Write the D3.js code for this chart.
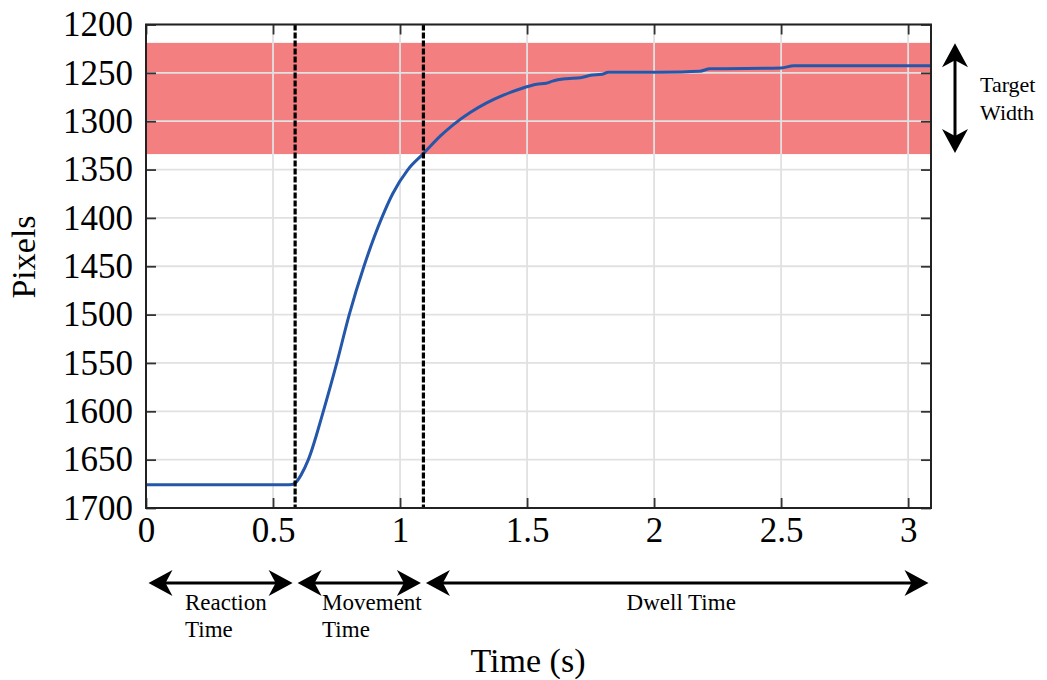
<!DOCTYPE html>
<html>
<head>
<meta charset="utf-8">
<script src="https://cdn.jsdelivr.net/npm/d3@7"></script>
<style>
  body { margin: 0; background: #fff; }
  svg { display: block; font-family: "Liberation Serif", "Times New Roman", serif; }
</style>
</head>
<body>
<script>
"use strict";

// cursor trace (seconds, pixels)
const time   = [0, 0.55, 0.575, 0.59, 0.61, 0.639, 0.698, 0.751, 0.800, 0.858, 0.928, 0.971, 1.031, 1.092,
                1.16, 1.21, 1.276, 1.341, 1.407, 1.472, 1.538, 1.575, 1.60, 1.655, 1.71, 1.75,
                1.795, 1.82, 2.02, 2.18, 2.22, 2.50, 2.55, 3.09];
const pixels = [1676, 1676, 1675.6, 1673.5, 1666, 1650, 1600, 1550, 1500, 1450, 1400, 1375, 1350, 1333.5,
                1315, 1303.5, 1291, 1281, 1273, 1266.7, 1261.8, 1260.8, 1258.5, 1256, 1255, 1252.5,
                1251.5, 1249.5, 1249.3, 1248.3, 1245.8, 1245, 1242.7, 1242.7];

// axis ticks
const xTicks = [0, 0.5, 1, 1.5, 2, 2.5, 3];
const xTickLabels = ["0", "0.5", "1", "1.5", "2", "2.5", "3"];
const yTicks = [1200, 1250, 1300, 1350, 1400, 1450, 1500, 1550, 1600, 1650, 1700];

// target band (pixels) and phase boundaries (seconds)
const target = [1219, 1334];
const phaseBounds = [0, 0.587, 1.092, 3.09];
const phaseNames = [["Reaction", "Time"], ["Movement", "Time"], ["Dwell Time"]];

const width = 1047, height = 680;
const margin = {top: 24.5, right: 116, bottom: 172, left: 146};
const w = width - margin.left - margin.right;
const h = height - margin.top - margin.bottom;

const x = d3.scaleLinear().domain([0, phaseBounds[3]]).range([0, w]);
const y = d3.scaleLinear().domain([1200, 1700]).range([0, h]);

const svg = d3.select("body").append("svg")
    .attr("width", width).attr("height", height);
const g = svg.append("g")
    .attr("transform", `translate(${margin.left},${margin.top})`);

// target band
g.append("rect")
    .attr("x", 0).attr("width", w)
    .attr("y", y(target[0])).attr("height", y(target[1]) - y(target[0]))
    .attr("fill", "#f47f81");

// grid
g.selectAll(".gx").data(xTicks).enter().append("line")
    .attr("x1", d => x(d)).attr("x2", d => x(d))
    .attr("y1", 0).attr("y2", h)
    .attr("stroke", "#e1e1e1").attr("stroke-width", 1.8);
g.selectAll(".gy").data(yTicks).enter().append("line")
    .attr("y1", d => y(d)).attr("y2", d => y(d))
    .attr("x1", 0).attr("x2", w)
    .attr("stroke", "#e1e1e1").attr("stroke-width", 1.8);

// trace
const trace = time.map((t, i) => [t, pixels[i]]);
g.append("path")
    .datum(trace)
    .attr("fill", "none")
    .attr("stroke", "#2457a9")
    .attr("stroke-width", 3)
    .attr("d", d3.line().x(d => x(d[0])).y(d => y(d[1])).curve(d3.curveMonotoneX));

// phase boundaries
g.selectAll(".phase").data(phaseBounds.slice(1, 3)).enter().append("line")
    .attr("x1", d => x(d)).attr("x2", d => x(d))
    .attr("y1", 0).attr("y2", h)
    .attr("stroke", "#000").attr("stroke-width", 3.2)
    .attr("stroke-dasharray", "6,2");

// axes, ticks pointing inward
function styleAxis(sel) {
  sel.select(".domain").remove();
  sel.selectAll(".tick line").attr("stroke", "#333").attr("stroke-width", 1.8);
  sel.selectAll(".tick text").attr("fill", "#000").attr("font-size", 35)
     .attr("font-family", "Liberation Serif, Times New Roman, serif");
}
g.append("g").attr("transform", `translate(0,${h})`)
    .call(d3.axisBottom(x).tickValues(xTicks).tickFormat((d, i) => xTickLabels[i]).tickSize(-10).tickPadding(9.5))
    .call(styleAxis);
g.append("g")
    .call(d3.axisTop(x).tickValues(xTicks).tickFormat("").tickSize(-10))
    .call(styleAxis);
g.append("g")
    .call(d3.axisLeft(y).tickValues(yTicks).tickFormat(d3.format("d")).tickSize(-10).tickPadding(13))
    .call(styleAxis);
g.append("g").attr("transform", `translate(${w},0)`)
    .call(d3.axisRight(y).tickValues(yTicks).tickFormat("").tickSize(-10))
    .call(styleAxis);

// frame
g.append("rect")
    .attr("width", w).attr("height", h)
    .attr("fill", "none").attr("stroke", "#222").attr("stroke-width", 2);

// axis titles
svg.append("text")
    .attr("transform", `translate(35,257) rotate(-90)`)
    .attr("text-anchor", "middle")
    .attr("font-size", 34)
    .text("Pixels");
svg.append("text")
    .attr("x", 528).attr("y", 672)
    .attr("text-anchor", "middle")
    .attr("font-size", 34)
    .text("Time (s)");

// double headed arrows
const headLen = 24, headHalf = 13, notch = 7;
function arrowHead(sel, tx, ty, dx, dy) {
  // dx,dy: unit vector from tip towards the shaft
  const px = -dy, py = dx;
  const bx = tx + dx * headLen, by = ty + dy * headLen;
  const pts = [
    [tx, ty],
    [bx + px * headHalf, by + py * headHalf],
    [tx + dx * (headLen - notch), ty + dy * (headLen - notch)],
    [bx - px * headHalf, by - py * headHalf]
  ];
  sel.append("path").attr("d", "M" + pts.join("L") + "Z").attr("fill", "#000");
}
function doubleArrow(sel, x1, y1, x2, y2) {
  const len = Math.hypot(x2 - x1, y2 - y1);
  const ux = (x2 - x1) / len, uy = (y2 - y1) / len;
  sel.append("line")
      .attr("x1", x1 + ux * 10).attr("y1", y1 + uy * 10)
      .attr("x2", x2 - ux * 10).attr("y2", y2 - uy * 10)
      .attr("stroke", "#000").attr("stroke-width", 3);
  arrowHead(sel, x1, y1, ux, uy);
  arrowHead(sel, x2, y2, -ux, -uy);
}

// phase arrows under the axis
const arrowY = h + 75;
const inset = 2.5;
const ann = g.append("g");
phaseNames.forEach((lines, i) => {
  const x0 = x(phaseBounds[i]), x1 = x(phaseBounds[i + 1]);
  doubleArrow(ann, x0 + inset, arrowY, x1 - inset, arrowY);
  const t = ann.append("text")
      .attr("font-size", 23)
      .attr("y", arrowY + 27);
  if (lines.length === 1) {
    t.attr("x", (x0 + x1) / 2 + 4).attr("text-anchor", "middle").text(lines[0]);
  } else {
    const lx = x0 + (i === 0 ? 39 : 27);
    lines.forEach((s, k) => {
      t.append("tspan").attr("x", lx).attr("dy", k === 0 ? 0 : 27).text(s);
    });
  }
});

// target width arrow on the right
const tx = w + 24;
doubleArrow(ann, tx, y(target[0]) + 0.5, tx, y(target[1]) - 1);
const tt = ann.append("text").attr("font-size", 22)
    .attr("y", (y(target[0]) + y(target[1])) / 2 - 6);
["Target", "Width"].forEach((s, k) => {
  tt.append("tspan").attr("x", w + 49).attr("dy", k === 0 ? 0 : 27.5).text(s);
});
</script>
</body>
</html>
